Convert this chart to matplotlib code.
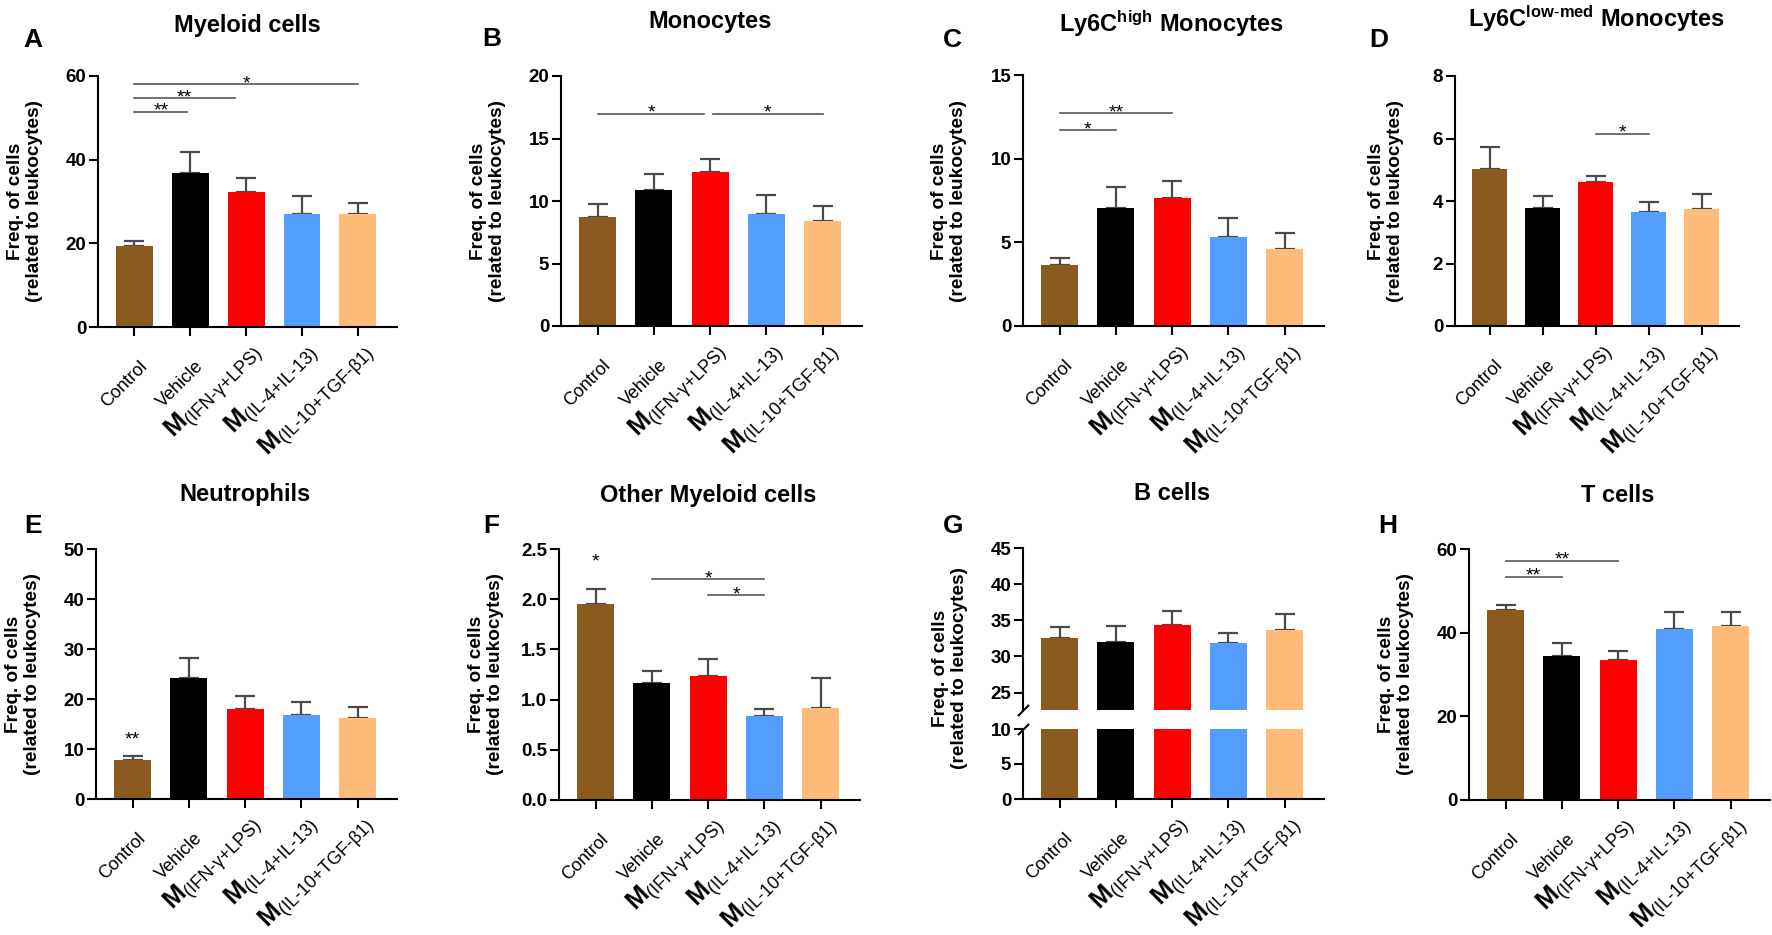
import matplotlib
matplotlib.use("Agg")
import matplotlib.pyplot as plt
from matplotlib.transforms import ScaledTranslation
from matplotlib.font_manager import FontProperties
from matplotlib.ticker import FormatStrFormatter
import numpy as np

W, H, DPI = 1772, 935, 100

plt.rcParams['font.family'] = ['Liberation Sans', 'DejaVu Sans']
plt.rcParams['mathtext.fontset'] = 'custom'
plt.rcParams['mathtext.rm'] = 'Liberation Sans'
plt.rcParams['mathtext.bf'] = 'Liberation Sans:bold'
plt.rcParams['mathtext.it'] = 'Liberation Sans:italic'
plt.rcParams['mathtext.sf'] = 'Liberation Sans:bold'

# ---------------- data ----------------
groups = ["Control", "Vehicle", "M(IFN-γ+LPS)", "M(IL-4+IL-13)", "M(IL-10+TGF-β1)"]
xtick_labels = ["Control", "Vehicle",
                r"$\mathbf{M}_{\text{(IFN-γ+LPS)}}$",
                r"$\mathbf{M}_{\text{(IL-4+IL-13)}}$",
                r"$\mathbf{M}_{\text{(IL-10+TGF-β1)}}$"]
bar_colors = ["#8B5A1E", "#000000", "#FF0000", "#529EFF", "#FFBB78"]

myeloid_mean = [19.3, 36.9, 32.2, 27.1, 26.9]
myeloid_err = [1.3, 5.0, 3.5, 4.2, 2.8]
mono_mean = [8.7, 10.9, 12.3, 9.0, 8.4]
mono_err = [1.05, 1.3, 1.05, 1.45, 1.2]
ly6c_high_mean = [3.65, 7.08, 7.66, 5.31, 4.63]
ly6c_high_err = [0.4, 1.22, 1.0, 1.17, 0.92]
ly6c_low_mean = [5.04, 3.79, 4.61, 3.65, 3.73]
ly6c_low_err = [0.69, 0.36, 0.2, 0.33, 0.49]
neutro_mean = [7.85, 24.3, 18.0, 16.9, 16.2]
neutro_err = [0.8, 3.9, 2.7, 2.6, 2.3]
other_mean = [1.95, 1.17, 1.24, 0.84, 0.92]
other_err = [0.15, 0.11, 0.16, 0.07, 0.30]
bcell_mean = [32.6, 32.0, 34.3, 31.9, 33.6]
bcell_err = [1.5, 2.2, 2.0, 1.4, 2.3]
tcell_mean = [45.3, 34.4, 33.5, 40.8, 41.7]
tcell_err = [1.3, 3.1, 2.0, 4.2, 3.2]

# significance: (x_start, x_end, y, label)
sig_A = [(0, 4, 58.1, "*"), (0, 1.8, 54.7, "**"), (0, 0.95, 51.5, "**")]
sig_B = [(0, 1.9, 17.0, "*"), (2.05, 4, 17.0, "*")]
sig_C = [(0, 2, 12.73, "**"), (0, 1, 11.69, "*")]
sig_D = [(2, 3, 6.16, "*")]
sig_F = [(1, 3, 2.20, "*"), (2, 3, 2.04, "*")]
sig_H = [(0, 2, 57.2, "**"), (0, 1, 53.4, "**")]
star_E = (0, 12.8, "**")
star_F = (0, 2.42, "*")

fig = plt.figure(figsize=(W / DPI, H / DPI), dpi=DPI)

def add_ax(l, r, t, b):
    return fig.add_axes([l / W, 1 - b / H, (r - l) / W, (b - t) / H])

ytick_fp = FontProperties(family=['Liberation Sans Narrow', 'Liberation Sans'], weight='bold', size=13.5)
SIG_COLOR = '#555555'

def style_axis(ax, ylim, yticks, fmt=None, show_bottom=True):
    ax.set_xlim(-0.65, 4.7)
    ax.set_ylim(*ylim)
    ax.set_yticks(yticks)
    if fmt:
        ax.yaxis.set_major_formatter(FormatStrFormatter(fmt))
    for s in ['top', 'right']:
        ax.spines[s].set_visible(False)
    ax.spines['left'].set_linewidth(1.5)
    ax.spines['bottom'].set_linewidth(1.5)
    ax.tick_params(axis='y', length=6.5, width=1.5, pad=2)
    for lab in ax.get_yticklabels():
        lab.set_fontproperties(ytick_fp)
    if show_bottom:
        ax.set_xticks(np.arange(5))
        ax.set_xticklabels([])
        ax.tick_params(axis='x', length=6.5, width=1.5)
        base = ax.get_xaxis_transform()
        for i, lab in enumerate(xtick_labels):
            if i < 2:
                fs, dx, dy = 13, 14, -40
            else:
                fs, dx, dy = 18.5, 15, -25
            trans = base + ScaledTranslation(dx / DPI, dy / DPI, fig.dpi_scale_trans)
            ax.text(i, 0, lab, transform=trans, rotation=45, rotation_mode='anchor',
                    ha='right', va='baseline', fontsize=fs)
    else:
        ax.spines['bottom'].set_visible(False)
        ax.set_xticks([])

def draw_bars(ax, means, errs):
    x = np.arange(len(means))
    ax.bar(x, means, width=0.66, color=bar_colors, zorder=2)
    ax.errorbar(x, means, yerr=[np.zeros(len(errs)), errs], fmt='none', ecolor='#4a4a4a',
                elinewidth=1.6, capsize=7, capthick=1.6, zorder=1)

def draw_sig(ax, sigs):
    for x1, x2, y, lab in sigs:
        ax.plot([x1, x2], [y, y], color=SIG_COLOR, lw=1.2, clip_on=False, zorder=3)
        ax.annotate(lab, ((x1 + x2) / 2, y), xytext=(0, -3), textcoords='offset points',
                    ha='center', va='baseline', fontsize=14)

def star(ax, s):
    x, y, lab = s
    ax.annotate(lab, (x, y), xytext=(0, -7), textcoords='offset points',
                ha='center', va='baseline', fontsize=14)

def ylabel(axis_px, center_py):
    fig.text(axis_px / W, 1 - center_py / H, "Freq. of cells\n(related to leukocytes)",
             rotation=90, ha='center', va='center', multialignment='center',
             fontsize=13.7, fontweight='bold', linespacing=1.15)

def title(cx, by, s):
    fig.text(cx / W, 1 - by / H, s, ha='center', va='baseline', fontsize=17, fontweight='bold')

def letter(lx, by, s):
    fig.text(lx / W, 1 - by / H, s, ha='left', va='baseline', fontsize=19, fontweight='bold')

# ---------------- A ----------------
axA = add_ax(98, 397, 76, 327)
draw_bars(axA, myeloid_mean, myeloid_err)
style_axis(axA, (0, 60), [0, 20, 40, 60])
draw_sig(axA, sig_A)
ylabel(98 - 73, 201)
title(247, 32, "Myeloid cells")
letter(23, 47, "A")

# ---------------- B ----------------
axB = add_ax(561, 862, 76, 326)
draw_bars(axB, mono_mean, mono_err)
style_axis(axB, (0, 20), [0, 5, 10, 15, 20])
draw_sig(axB, sig_B)
ylabel(561 - 73, 201)
title(710, 28, "Monocytes")
letter(482, 46, "B")

# ---------------- C ----------------
axC = add_ax(1023, 1324, 75, 326)
draw_bars(axC, ly6c_high_mean, ly6c_high_err)
style_axis(axC, (0, 15), [0, 5, 10, 15])
draw_sig(axC, sig_C)
ylabel(1023 - 74, 201)
title(1171, 32, r"Ly6C$^{\mathbf{high}}$ Monocytes")
letter(943, 47, "C")

# ---------------- D ----------------
axD = add_ax(1455, 1739, 76, 326)
draw_bars(axD, ly6c_low_mean, ly6c_low_err)
style_axis(axD, (0, 8), [0, 2, 4, 6, 8])
draw_sig(axD, sig_D)
ylabel(1455 - 69, 201)
title(1596, 27, r"Ly6C$^{\mathbf{low}\text{-}\mathbf{med}}$ Monocytes")
letter(1369, 47, "D")

# ---------------- E ----------------
axE = add_ax(96, 397, 549, 799)
draw_bars(axE, neutro_mean, neutro_err)
style_axis(axE, (0, 50), [0, 10, 20, 30, 40, 50])
star(axE, star_E)
ylabel(96 - 73, 674)
title(245, 501, "Neutrophils")
letter(24, 533, "E")

# ---------------- F ----------------
axF = add_ax(559, 860, 549, 800)
draw_bars(axF, other_mean, other_err)
style_axis(axF, (0, 2.5), [0, 0.5, 1.0, 1.5, 2.0, 2.5], fmt='%.1f')
draw_sig(axF, sig_F)
star(axF, star_F)
ylabel(559 - 73, 674)
title(708, 502, "Other Myeloid cells")
letter(483, 533, "F")

# ---------------- G (broken axis) ----------------
axGu = add_ax(1023, 1324, 548, 710)
axGl = add_ax(1023, 1324, 729, 799)
draw_bars(axGu, bcell_mean, bcell_err)
draw_bars(axGl, bcell_mean, bcell_err)
style_axis(axGu, (22.6, 45), [25, 30, 35, 40, 45], show_bottom=False)
style_axis(axGl, (0, 10), [0, 5, 10])
brk = dict(marker=[(-1, -1), (1, 1)], markersize=8, linestyle='none', color='k',
           mec='k', mew=1.5, clip_on=False)
axGu.plot([0], [0], transform=axGu.transAxes, **brk)
axGl.plot([0], [1], transform=axGl.transAxes, **brk)
ylabel(1023 - 73, 668)
title(1172, 500, "B cells")
letter(943, 533, "G")

# ---------------- H ----------------
axH = add_ax(1469, 1770, 549, 800)
draw_bars(axH, tcell_mean, tcell_err)
style_axis(axH, (0, 60), [0, 20, 40, 60])
draw_sig(axH, sig_H)
ylabel(1469 - 73, 674)
title(1618, 502, "T cells")
letter(1378, 533, "H")

fig.savefig("out.png", dpi=DPI)
